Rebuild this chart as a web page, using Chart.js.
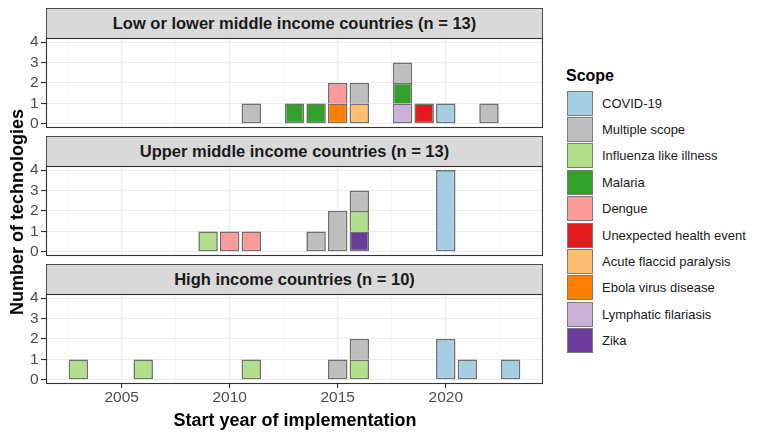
<!DOCTYPE html>
<html>
<head>
<meta charset="utf-8">
<script src="https://cdn.jsdelivr.net/npm/chart.js@4.4.1/dist/chart.umd.min.js"></script>
<style>
  html, body { margin: 0; padding: 0; background: #fff; }
  body { width: 766px; height: 438px; position: relative; overflow: hidden;
         font-family: "Liberation Sans", Arial, sans-serif; color: #000; }
  canvas { position: absolute; left: 0; }
  .strip { position: absolute; left: 46px; width: 497px; height: 30px; box-sizing: border-box;
           background: #D9D9D9; border: 1px solid #4d4d4d; border-bottom: none;
           font-weight: bold; font-size: 16.5px; color: #1A1A1A;
           text-align: center; line-height: 29px; }
  .axis-title { position: absolute; font-weight: bold; font-size: 18px; text-align: center; white-space: nowrap; }
  #legend { position: absolute; left: 566px; top: 64px; }
  #legend .ttl { font-weight: bold; font-size: 16px; height: 26px; line-height: 24px; }
  #legend .row { display: flex; align-items: center; height: 26.4px; }
  #legend .key { width: 26px; height: 25px; box-sizing: border-box; border: 1.5px solid #7a7a7a; margin-left: 1px; }
  #legend .lab { font-size: 13px; margin-left: 9px; color: #1A1A1A; }
</style>
</head>
<body>

<div class="strip" id="strip0" style="top:8px"></div>
<div class="strip" id="strip1" style="top:136px"></div>
<div class="strip" id="strip2" style="top:264px"></div>
<!-- each canvas has 10px of slack above and below its plot area (plus 20px of x axis on the last) -->
<canvas id="panel0" width="543" height="110" style="top:28px"></canvas>
<canvas id="panel1" width="543" height="110" style="top:156px"></canvas>
<canvas id="panel2" width="543" height="130" style="top:284px"></canvas>

<div class="axis-title" style="left:45px; width:500px; top:408px; line-height:24px;">Start year of implementation</div>
<div class="axis-title" style="left:-133px; top:201px; width:300px; line-height:22px; transform:rotate(-90deg);">Number of technologies</div>
<div id="legend"></div>

<script>
// ── DATA ────────────────────────────────────────────────────
const scopes = [
  'COVID-19', 'Multiple scope', 'Influenza like illness', 'Malaria', 'Dengue',
  'Unexpected health event', 'Acute flaccid paralysis', 'Ebola virus disease',
  'Lymphatic filariasis', 'Zika'
];
const scopeColors = [
  '#A6CEE3', '#BEBEBE', '#B2DF8A', '#33A02C', '#FB9A99',
  '#E31A1C', '#FDBF6F', '#FF7F00', '#CAB2D6', '#6A3D9A'
];

// one entry per technology
const lowYears  = [2011, 2013, 2014, 2015, 2015, 2016, 2016, 2018, 2018, 2018, 2019, 2020, 2022];
const lowScopes = ['Multiple scope', 'Malaria', 'Malaria', 'Ebola virus disease', 'Dengue',
  'Acute flaccid paralysis', 'Multiple scope', 'Lymphatic filariasis', 'Malaria', 'Multiple scope',
  'Unexpected health event', 'COVID-19', 'Multiple scope'];

const upperYears  = [2009, 2010, 2011, 2014, 2015, 2015, 2016, 2016, 2016, 2020, 2020, 2020, 2020];
const upperScopes = ['Influenza like illness', 'Dengue', 'Dengue', 'Multiple scope', 'Multiple scope',
  'Multiple scope', 'Zika', 'Influenza like illness', 'Multiple scope',
  'COVID-19', 'COVID-19', 'COVID-19', 'COVID-19'];

const highYears  = [2003, 2006, 2011, 2015, 2016, 2016, 2020, 2020, 2021, 2023];
const highScopes = ['Influenza like illness', 'Influenza like illness', 'Influenza like illness',
  'Multiple scope', 'Influenza like illness', 'Multiple scope',
  'COVID-19', 'COVID-19', 'COVID-19', 'COVID-19'];

const panelNames = ['Low or lower middle income countries', 'Upper middle income countries', 'High income countries'];
const xTickLabels = [2005, 2010, 2015, 2020];
const yTickLabels = [0, 1, 2, 3, 4];

// ── HELPERS ─────────────────────────────────────────────────
const FONT = '"Liberation Sans", Arial, sans-serif';

const panelBorder = {
  id: 'panelBorder',
  afterDraw(chart) {
    const { ctx, chartArea: a } = chart;
    ctx.save();
    ctx.strokeStyle = '#333333';
    ctx.lineWidth = 1.1;
    ctx.strokeRect(a.left + 0.5, a.top + 0.5, a.right - a.left - 1, a.bottom - a.top - 1);
    ctx.restore();
  }
};

function noPadding(s) {
  s.paddingTop = s.paddingBottom = s.paddingLeft = s.paddingRight = 0;
}

function buildDatasets(years, scopeList) {
  // bottom of the stack first: last scope level sits at the bottom
  const order = scopes.map((s, i) => i).reverse();
  return order.map(i => {
    const counts = {};
    years.forEach((y, k) => { if (scopeList[k] === scopes[i]) counts[y] = (counts[y] || 0) + 1; });
    return {
      label: scopes[i],
      data: Object.keys(counts).map(y => ({ x: +y, y: counts[y] })),
      backgroundColor: scopeColors[i],
      borderColor: '#707070',
      borderWidth: 1.6,
      barPercentage: 0.9,
      categoryPercentage: 1
    };
  });
}

function renderPanel(canvasId, years, scopeList, showX) {
  const datasets = buildDatasets(years, scopeList);
  const lowestAt = x => datasets.findIndex(d => d.data.some(p => p.x === x));
  datasets.forEach(d => {
    d.borderSkipped = ctx => (ctx.raw && lowestAt(ctx.raw.x) === ctx.datasetIndex) ? false : 'start';
  });

  new Chart(document.getElementById(canvasId), {
    type: 'bar',
    data: { datasets },
    plugins: [panelBorder],
    options: {
      responsive: false,
      animation: false,
      layout: { padding: { top: 10, bottom: 10, left: 0, right: 0 } },
      plugins: { legend: { display: false }, tooltip: { enabled: false } },
      scales: {
        x: {
          type: 'linear',
          stacked: true,
          offset: false,
          min: 2001.5,
          max: 2024.5,
          border: { display: false },
          afterFit: s => { s.height = showX ? 20 : 0; noPadding(s); },
          grid: {
            offset: false,
            drawTicks: showX,
            tickLength: 4,
            color: c => xTickLabels.includes(c.tick.value) ? '#EBEBEB' : '#F2F2F2',
            lineWidth: c => xTickLabels.includes(c.tick.value) ? 1.1 : 0.6,
            tickColor: c => xTickLabels.includes(c.tick.value) ? '#333333' : 'rgba(0,0,0,0)',
            tickWidth: 1.1
          },
          ticks: {
            display: showX,
            stepSize: 2.5,
            includeBounds: false,
            autoSkip: false,
            maxRotation: 0,
            padding: 0,
            color: '#4D4D4D',
            font: { family: FONT, size: 15.5 },
            callback: v => xTickLabels.includes(v) ? String(v) : ''
          }
        },
        y: {
          stacked: true,
          min: -0.2,
          max: 4.2,
          border: { display: false },
          afterFit: s => { s.width = 46; noPadding(s); },
          grid: { color: '#EBEBEB', lineWidth: 1.1, tickLength: 5, tickColor: '#333333', tickWidth: 1.1 },
          ticks: {
            stepSize: 1,
            includeBounds: false,
            autoSkip: false,
            padding: 2.5,
            color: '#4D4D4D',
            font: { family: FONT, size: 15.5 },
            callback: v => yTickLabels.includes(v) ? String(v) : ''
          }
        }
      }
    }
  });
}

// ── STRIPS & LEGEND ─────────────────────────────────────────
const panelYears = [lowYears, upperYears, highYears];
panelNames.forEach((name, i) => {
  document.getElementById('strip' + i).textContent = `${name} (n = ${panelYears[i].length})`;
});

const legend = document.getElementById('legend');
legend.innerHTML = '<div class="ttl">Scope</div>' + scopes.map((s, i) =>
  `<div class="row"><div class="key" style="background:${scopeColors[i]}"></div><div class="lab">${s}</div></div>`
).join('');

// ── PANELS ──────────────────────────────────────────────────
renderPanel('panel0', lowYears, lowScopes, false);
renderPanel('panel1', upperYears, upperScopes, false);
renderPanel('panel2', highYears, highScopes, true);
</script>
</body>
</html>
